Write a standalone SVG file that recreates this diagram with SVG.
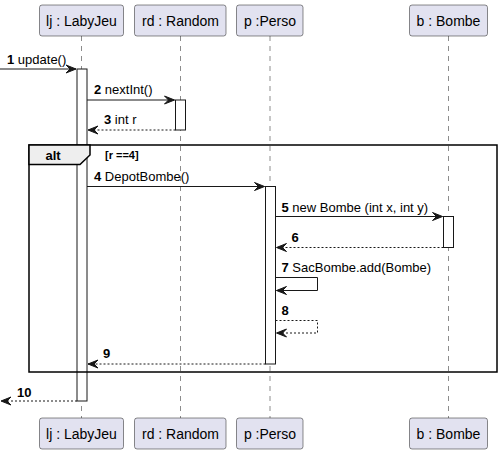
<svg xmlns="http://www.w3.org/2000/svg" width="502" height="455" viewBox="0 0 502 455">
<style>
.part{fill:#E2E2F0;stroke:#181818;stroke-width:0.5}
.pt{font-family:"Liberation Sans",Arial,sans-serif;font-size:14px;fill:#000;text-anchor:middle}
.life{stroke:#181818;stroke-width:0.5;stroke-dasharray:5,5}
.act{fill:#FFFFFF;stroke:#181818;stroke-width:1}
.msg{stroke:#181818;stroke-width:1;fill:none}
.ret{stroke:#181818;stroke-width:1;fill:none;stroke-dasharray:2,2}
.ah{fill:#181818;stroke:#181818;stroke-width:1}
.mt{font-family:"Liberation Sans",Arial,sans-serif;font-size:13px;fill:#000}
.num{font-weight:bold}
.frame{fill:none;stroke:#000;stroke-width:1.5}
.tab{fill:#EEEEEE;stroke:#000;stroke-width:1.5}
</style>
<g id="lifelines">
<line class="life" x1="81.5" y1="36" x2="81.5" y2="418"/>
<line class="life" x1="180.5" y1="36" x2="180.5" y2="418"/>
<line class="life" x1="270" y1="36" x2="270" y2="418"/>
<line class="life" x1="448.5" y1="36" x2="448.5" y2="418"/>
</g>
<g id="lj">
<rect class="part" x="39.5" y="5" width="84" height="31" rx="2.5"/>
<text class="pt" x="81.5" y="25.5">lj : LabyJeu</text>
<rect class="part" x="39.5" y="418" width="84" height="31" rx="2.5"/>
<text class="pt" x="81.5" y="438.5">lj : LabyJeu</text>
<rect class="act" x="77" y="69" width="10" height="332"/>
</g>
<g id="rd">
<rect class="part" x="134.5" y="5" width="91.5" height="31" rx="2.5"/>
<text class="pt" x="180.5" y="25.5">rd : Random</text>
<rect class="part" x="134.5" y="418" width="91.5" height="31" rx="2.5"/>
<text class="pt" x="180.5" y="438.5">rd : Random</text>
<rect class="act" x="175.5" y="100" width="10" height="30"/>
</g>
<g id="p">
<rect class="part" x="236.5" y="5" width="66.5" height="31" rx="2.5"/>
<text class="pt" x="270" y="25.5">p :Perso</text>
<rect class="part" x="236.5" y="418" width="66.5" height="31" rx="2.5"/>
<text class="pt" x="270" y="438.5">p :Perso</text>
<rect class="act" x="265.5" y="186.5" width="10" height="177.5"/>
</g>
<g id="b">
<rect class="part" x="409.5" y="5" width="78" height="31" rx="2.5"/>
<text class="pt" x="448.5" y="25.5">b : Bombe</text>
<rect class="part" x="409.5" y="418" width="78" height="31" rx="2.5"/>
<text class="pt" x="448.5" y="438.5">b : Bombe</text>
<rect class="act" x="443.5" y="216.5" width="10" height="31"/>
</g>
<g id="alt">
<rect class="frame" x="29" y="145" width="468" height="227"/>
<polygon class="tab" points="29,145 90,145 90,155 80,164.5 29,164.5"/>
<text class="mt num" x="53" y="160" text-anchor="middle">alt</text>
<text class="mt num" x="105" y="158.5" style="font-size:11px">[r ==4]</text>
</g>
<g id="connectors">
<line class="msg" x1="0" y1="69" x2="76" y2="69"/>
<polygon class="ah" points="66,65 76,69 66,73 70,69"/>
<text class="mt" x="7" y="63.5"><tspan class="num">1</tspan> update()</text>

<line class="msg" x1="87" y1="100" x2="174.5" y2="100"/>
<polygon class="ah" points="164.5,96 174.5,100 164.5,104 168.5,100"/>
<text class="mt" x="94" y="93.5"><tspan class="num">2</tspan> nextInt()</text>

<line class="ret" x1="175.5" y1="130" x2="88" y2="130"/>
<polygon class="ah" points="98,126 88,130 98,134 94,130"/>
<text class="mt" x="104" y="124"><tspan class="num">3</tspan> int r</text>

<line class="msg" x1="87" y1="186.5" x2="264.5" y2="186.5"/>
<polygon class="ah" points="254.5,182.5 264.5,186.5 254.5,190.5 258.5,186.5"/>
<text class="mt" x="94" y="180.5"><tspan class="num">4</tspan> DepotBombe()</text>

<line class="msg" x1="275.5" y1="216.5" x2="442.5" y2="216.5"/>
<polygon class="ah" points="432.5,212.5 442.5,216.5 432.5,220.5 436.5,216.5"/>
<text class="mt" x="281.5" y="212"><tspan class="num">5</tspan> new Bombe (int x, int y)</text>

<line class="ret" x1="443.5" y1="247.5" x2="276.5" y2="247.5"/>
<polygon class="ah" points="286.5,243.5 276.5,247.5 286.5,251.5 282.5,247.5"/>
<text class="mt num" x="291.5" y="241.5">6</text>

<polyline class="msg" points="275.5,277.5 317.5,277.5 317.5,290.5 276.5,290.5"/>
<polygon class="ah" points="286.5,286.5 276.5,290.5 286.5,294.5 282.5,290.5"/>
<text class="mt" x="281.5" y="272"><tspan class="num">7</tspan> SacBombe.add(Bombe)</text>

<polyline class="ret" points="275.5,320.5 317.5,320.5 317.5,333 276.5,333"/>
<polygon class="ah" points="286.5,329 276.5,333 286.5,337 282.5,333"/>
<text class="mt num" x="281.5" y="315">8</text>

<line class="ret" x1="265.5" y1="364" x2="88" y2="364"/>
<polygon class="ah" points="98,360 88,364 98,368 94,364"/>
<text class="mt num" x="103" y="358">9</text>

<line class="ret" x1="77" y1="401" x2="1" y2="401"/>
<polygon class="ah" points="11,397 1,401 11,405 7,401"/>
<text class="mt num" x="17" y="396.5">10</text>
</g>
</svg>
